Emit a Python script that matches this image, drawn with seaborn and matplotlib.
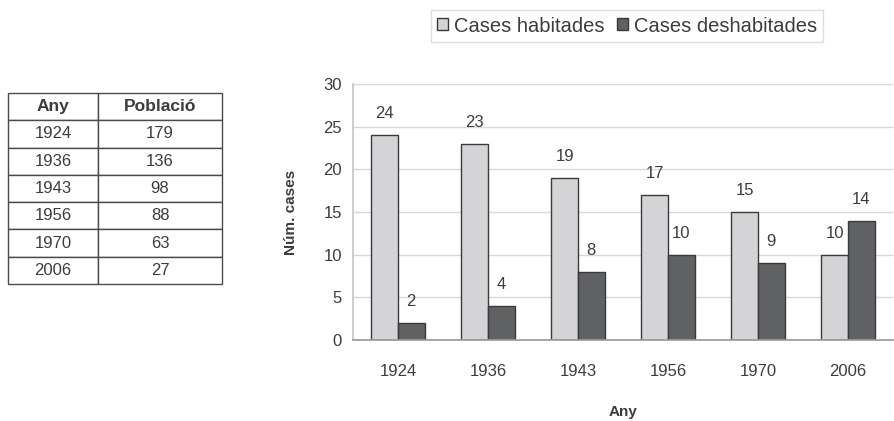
import matplotlib
matplotlib.use("Agg")
import matplotlib.pyplot as plt
from matplotlib import font_manager
from matplotlib.patches import Patch
import seaborn as sns
import pandas as pd

# ---- data ----
years = ["1924", "1936", "1943", "1956", "1970", "2006"]
habitades = [24, 23, 19, 17, 15, 10]
deshabitades = [2, 4, 8, 10, 9, 14]
poblacio = [179, 136, 98, 88, 63, 27]
series_names = ["Cases habitades", "Cases deshabitades"]

sns.set_theme(style="white")
names = {f.name for f in font_manager.fontManager.ttflist}
base_font = "Liberation Sans" if "Liberation Sans" in names else "DejaVu Sans"
narrow_font = "Liberation Sans Narrow" if "Liberation Sans Narrow" in names else base_font
plt.rcParams["font.family"] = [base_font, "DejaVu Sans"]

light = "#d4d4d6"
dark = "#606163"
edge = "#3a3a3a"
txt = "#3c3c3c"

df = pd.DataFrame({
    "Any": years * 2,
    "serie": [series_names[0]] * len(years) + [series_names[1]] * len(years),
    "valor": habitades + deshabitades,
})

fig = plt.figure(figsize=(8.95, 4.21), dpi=100)
ax = fig.add_axes([353 / 895, 1 - 340 / 421, 540 / 895, 256 / 421])

sns.barplot(data=df, x="Any", y="valor", hue="serie", hue_order=series_names,
            palette=[light, dark], width=0.59, edgecolor=edge, linewidth=1.0,
            saturation=1, legend=False, ax=ax, gap=0)

for cont in ax.containers:
    ax.bar_label(cont, padding=10, fontsize=12, color=txt)

ax.set_ylim(0, 30)
ax.set_xlim(-0.5, 5.5)
ax.set_yticks(range(0, 31, 5))
ax.yaxis.grid(True, color="#d8d8d8", linewidth=1)
ax.set_axisbelow(True)
for s in ["top", "right"]:
    ax.spines[s].set_visible(False)
ax.spines["left"].set_color("#c8c8c8")
ax.spines["bottom"].set_color("#9a9a9a")
ax.tick_params(axis="y", length=0, pad=8, labelsize=12, labelcolor=txt)
ax.tick_params(axis="x", which="major", length=0, pad=17, labelsize=12, labelcolor=txt)
ax.set_xticks([i - 0.5 for i in range(7)], minor=True)
ax.tick_params(axis="x", which="minor", length=5, color="#b0b0b0", direction="out")

ax.set_xlabel("Any", fontsize=11, fontweight="bold", color=txt, labelpad=19)
ax.set_ylabel("Núm. cases", fontsize=11, fontweight="bold", color=txt, labelpad=18)

handles = [Patch(facecolor=light, edgecolor=edge, linewidth=1.0),
           Patch(facecolor=dark, edgecolor=edge, linewidth=1.0)]
fig.legend(handles, series_names, loc="center", bbox_to_anchor=(627 / 895, 1 - 26 / 421),
           ncol=2, frameon=True, fontsize=14.5, handlelength=0.55, handleheight=0.55,
           handletextpad=0.3, columnspacing=0.6, borderpad=0.3, fancybox=False,
           edgecolor="#d4d4d4", labelcolor=txt)

# ---- table ----
tax = fig.add_axes([8 / 895, 1 - 284 / 421, 214 / 895, 191 / 421])
tax.axis("off")
cells = [[y, str(p)] for y, p in zip(years, poblacio)]
tbl = tax.table(cellText=cells, colLabels=["Any", "Població"], cellLoc="center",
                colWidths=[90 / 214, 124 / 214], bbox=[0, 0, 1, 1])
tbl.auto_set_font_size(False)
for (r, c), cell in tbl.get_celld().items():
    cell.set_edgecolor("#4a4a4a")
    cell.set_linewidth(1.0)
    t = cell.get_text()
    t.set_fontsize(12)
    t.set_color(txt)
    t.set_fontfamily([narrow_font, "DejaVu Sans"])
    if r == 0:
        t.set_fontweight("bold")
        t.set_fontsize(12.5)

fig.savefig("out.png", dpi=100)
